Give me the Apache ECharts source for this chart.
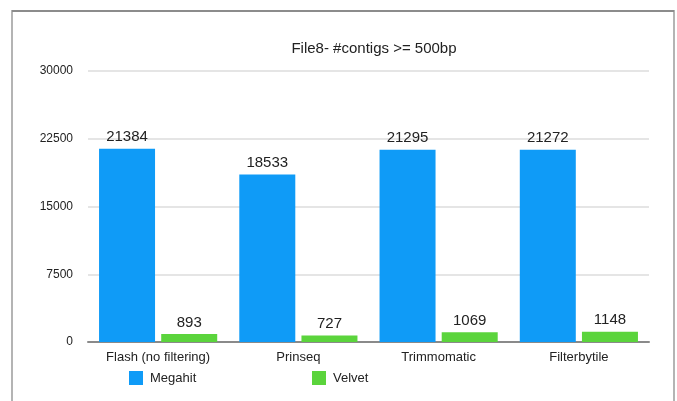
<!DOCTYPE html>
<html>
<head>
<meta charset="utf-8">
<style>
  html, body { margin: 0; padding: 0; background: #fff; }
  #chart { width: 677px; height: 401px; }
</style>
<script src="https://cdn.jsdelivr.net/npm/echarts@6/dist/echarts.min.js"></script>
</head>
<body>
<div id="chart"></div>
<script>
// Number of contigs >= 500bp per read-filtering tool, by assembler
const categories = ['Flash (no filtering)', 'Prinseq', 'Trimmomatic', 'Filterbytile'];
const megahit = [21384, 18533, 21295, 21272];
const velvet = [893, 727, 1069, 1148];
const yTicks = [0, 7500, 15000, 22500, 30000];

const FONT = '"Liberation Sans", Arial, Helvetica, sans-serif';
const chart = echarts.init(document.getElementById('chart'), null, { renderer: 'canvas' });

const valueLabel = {
  show: true,
  position: 'top',
  distance: 4,
  color: '#222',
  fontSize: 15,
  fontFamily: FONT
};

chart.setOption({
  animation: false,
  backgroundColor: '#fff',
  textStyle: { fontFamily: FONT },
  title: {
    text: 'File8- #contigs >= 500bp',
    left: 369,
    textAlign: 'center',
    top: 36,
    textStyle: { fontSize: 15, fontWeight: 'normal', color: '#222', fontFamily: FONT }
  },
  graphic: [{
    type: 'rect',
    z: -1,
    shape: { x: 12, y: 11, width: 662, height: 420 },
    style: { fill: 'none', stroke: '#b4b4b4', lineWidth: 2 }
  }, {
    type: 'line',
    z: -1,
    shape: { x1: 12, y1: 11, x2: 674, y2: 11 },
    style: { stroke: '#8c8c8c', lineWidth: 2 }
  }],
  legend: [{
    data: ['Megahit'],
    left: 129,
    top: 371,
    itemWidth: 14,
    itemHeight: 14,
    icon: 'rect',
    textStyle: { fontSize: 13, color: '#222', fontFamily: FONT, padding: [0, 0, 0, 2] },
    padding: 0
  }, {
    data: ['Velvet'],
    left: 312,
    top: 371,
    itemWidth: 14,
    itemHeight: 14,
    icon: 'rect',
    textStyle: { fontSize: 13, color: '#222', fontFamily: FONT, padding: [0, 0, 0, 2] },
    padding: 0
  }],
  grid: { left: 88, right: 28, top: 71, bottom: 59, containLabel: false },
  xAxis: {
    type: 'category',
    data: categories,
    axisLine: { show: true, lineStyle: { color: '#8a8a8a', width: 2 } },
    axisTick: { show: false },
    axisLabel: { color: '#222', fontSize: 13, margin: 9, fontFamily: FONT }
  },
  yAxis: {
    type: 'value',
    min: yTicks[0],
    max: yTicks[yTicks.length - 1],
    interval: yTicks[1] - yTicks[0],
    axisLine: { show: false },
    axisTick: { show: false },
    axisLabel: {
      color: '#222', fontSize: 12, margin: 15, fontFamily: FONT,
      formatter: v => String(v)
    },
    splitLine: { lineStyle: { color: '#dcdcdc', width: 1.5 } }
  },
  series: [{
    name: 'Megahit',
    type: 'bar',
    data: megahit,
    barWidth: 56,
    barGap: '11%',
    itemStyle: { color: '#0f9bf7' },
    label: valueLabel
  }, {
    name: 'Velvet',
    type: 'bar',
    data: velvet,
    barWidth: 56,
    barGap: '11%',
    itemStyle: { color: '#5bd43c' },
    label: valueLabel
  }]
});
</script>
</body>
</html>
